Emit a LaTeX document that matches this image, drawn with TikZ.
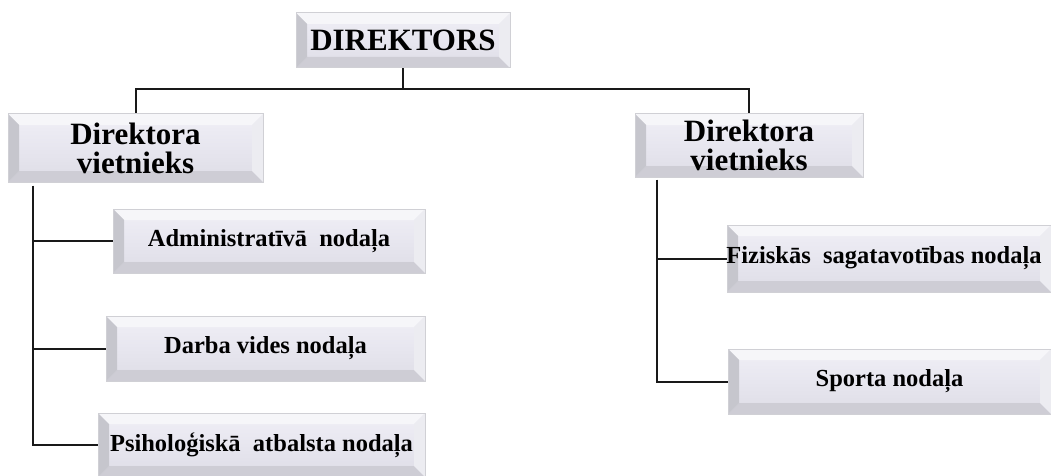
\documentclass[tikz,border=0pt]{standalone}
\usepackage{fontspec}
\setmainfont{Liberation Serif}
\usetikzlibrary{calc}
\definecolor{faceT}{RGB}{240,239,246}
\definecolor{faceM}{RGB}{231,230,239}
\definecolor{faceB}{RGB}{222,221,230}
\definecolor{bevL}{RGB}{198,198,205}
\definecolor{bevT}{RGB}{246,246,249}
\definecolor{bevR}{RGB}{236,236,241}
\definecolor{bevB}{RGB}{206,205,213}
\definecolor{boxline}{RGB}{208,208,213}
\definecolor{conncol}{RGB}{25,25,25}
\newcommand{\bv}{11}
\tikzset{
  bx/.style={draw=boxline, line width=1pt, inner sep=0pt, align=center,
    top color=faceT, bottom color=faceB, middle color=faceM,
    path picture={
      \path (path picture bounding box.north west) coordinate (pNW)
            (path picture bounding box.north east) coordinate (pNE)
            (path picture bounding box.south west) coordinate (pSW)
            (path picture bounding box.south east) coordinate (pSE);
      \fill[bevT] (pNW) -- (pNE) -- ([shift={(-\bv,\bv)}]pNE) -- ([shift={(\bv,\bv)}]pNW) -- cycle;
      \fill[bevB] (pSW) -- (pSE) -- ([shift={(-\bv,-\bv)}]pSE) -- ([shift={(\bv,-\bv)}]pSW) -- cycle;
      \fill[bevL] (pNW) -- ([shift={(\bv,\bv)}]pNW) -- ([shift={(\bv,-\bv)}]pSW) -- (pSW) -- cycle;
      \fill[bevR] (pNE) -- ([shift={(-\bv,\bv)}]pNE) -- ([shift={(-\bv,-\bv)}]pSE) -- (pSE) -- cycle;
    }},
  bigtxt/.style={font=\fontsize{31}{31}\selectfont\bfseries},
  midtxt/.style={font=\fontsize{31}{29}\selectfont\bfseries},
  smalltxt/.style={font=\fontsize{24.5}{26}\selectfont\bfseries},
  conn/.style={draw=conncol, line width=2pt}
}
\begin{document}
\begin{tikzpicture}[x=1pt,y=-1pt]
\useasboundingbox[fill=white] (0,0) rectangle (1051,476);
% top
\node[bx, bigtxt, minimum width=214pt, minimum height=55pt] (dir) at (403,40.5) {DIREKTORS};
% deputies
\node[bx, midtxt, minimum width=255pt, minimum height=68pt] (dl) at (135.5,148) {Direktora\\vietnieks};
\node[bx, midtxt, minimum width=228pt, minimum height=63pt] (dr) at (749,145.5) {Direktora\\vietnieks};
% left departments
\node[bx, smalltxt, minimum width=312pt, minimum height=64pt] (ad) at (269,241) {Administratīvā\ \ nodaļa};
\node[bx, smalltxt, minimum width=319pt, minimum height=65pt] (dv) at (265.5,348.5) {Darba vides nodaļa};
\node[bx, smalltxt, minimum width=327pt, minimum height=64pt] (ps) at (261.5,445) {Psiholoģiskā\ \ atbalsta nodaļa};
% right departments
\node[bx, smalltxt, minimum width=324pt, minimum height=67pt] (fz) at (889,258.5) {\hspace*{-10pt}Fiziskās\ \ sagatavotības nodaļa};
\node[bx, smalltxt, minimum width=323pt, minimum height=65pt] (sp) at (889.5,381.5) {Sporta nodaļa};
% connectors
\draw[conn] (dir.south) -- ++(0,21) coordinate (hub);
\draw[conn] (hub) -| (dl.north);
\draw[conn] (hub) -| (dr.north);
\coordinate (lt) at ([xshift=25pt,yshift=-3pt]dl.south west);
\draw[conn] (lt) |- (ps.west);
\draw[conn] (lt |- ad.west) -- (ad.west);
\draw[conn] (lt |- dv.west) -- (dv.west);
\coordinate (rt) at ([xshift=22pt,yshift=-2pt]dr.south west);
\draw[conn] (rt) |- (sp.west);
\draw[conn] (rt |- fz.west) -- (fz.west);
\end{tikzpicture}
\end{document}
